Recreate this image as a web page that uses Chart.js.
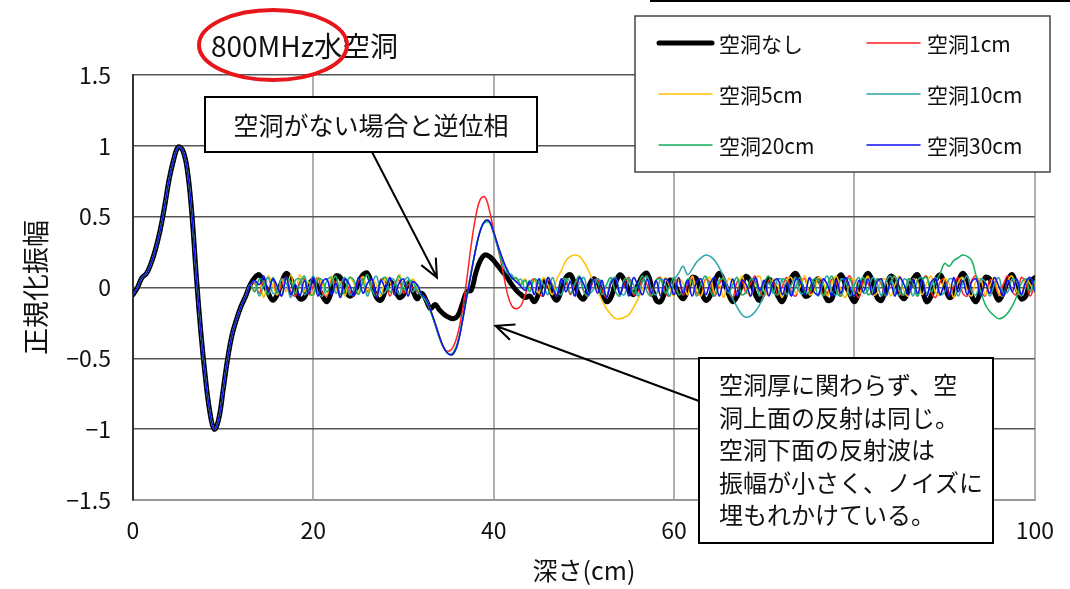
<!DOCTYPE html>
<html lang="ja">
<head>
<meta charset="utf-8">
<title>800MHz水空洞</title>
<script src="https://cdn.jsdelivr.net/npm/chart.js@4.4.1/dist/chart.umd.min.js"></script>
<style>
  html, body { margin: 0; padding: 0; background: #fff; }
  #wrap { position: relative; width: 1070px; height: 589px; }
</style>
</head>
<body>
<div id="wrap"><canvas id="waveChart" width="1070" height="589"></canvas></div>
<script>
// depth sampling (cm)
const depthStep = 0.5;

// direct wave, same for every case: 0 - 13 cm
const pulse = [
  -0.05, 0.0, 0.07, 0.1, 0.17, 0.27, 0.4, 0.57, 0.76, 0.9,
  0.99, 0.97, 0.84, 0.54, 0.1, -0.3, -0.62, -0.87, -1.0, -0.93,
  -0.72, -0.5, -0.33, -0.22, -0.13, -0.06, 0.02
];

// 13.5 - 100 cm for each case
const noCavity = [
  0.07, 0.09, 0.03, -0.04, -0.09, -0.05, 0.04, 0.1, 0.06, -0.02,
  -0.08, -0.07, 0.02, 0.05, 0.0, -0.06, -0.1, -0.03, 0.08, 0.07,
  -0.01, -0.06, -0.04, 0.03, 0.09, 0.1, 0.02, -0.07, -0.09, -0.02,
  0.04, 0.0, -0.07, -0.05, 0.03, -0.02, -0.08, -0.04, -0.09, -0.15,
  -0.12, -0.16, -0.19, -0.21, -0.22, -0.2, -0.12, -0.03, -0.02, 0.1,
  0.19, 0.23, 0.22, 0.19, 0.15, 0.11, 0.07, 0.02, -0.02, -0.05,
  -0.07, -0.06, -0.1, -0.04, 0.04, 0.03, -0.05, -0.09, -0.02, 0.07,
  0.09, 0.02, -0.06, -0.08, 0.0, 0.06, 0.04, -0.04, -0.1, -0.07,
  0.03, 0.09, 0.05, -0.02, -0.05, 0.02, 0.08, 0.1, 0.01, -0.09,
  -0.1, -0.03, 0.05, 0.03, -0.04, -0.08, -0.02, 0.07, 0.06, -0.03,
  -0.09, -0.06, 0.04, 0.1, 0.05, -0.04, -0.1, -0.06, 0.02, 0.08,
  0.04, -0.05, -0.09, 0.0, 0.06, 0.02, -0.06, -0.1, -0.02, 0.07,
  0.1, 0.03, -0.06, -0.05, 0.03, 0.06, -0.01, -0.09, -0.08, 0.04,
  0.09, 0.02, -0.05, -0.1, -0.03, 0.05, 0.1, 0.04, -0.07, -0.09,
  0.0, 0.08, 0.05, -0.04, -0.08, -0.02, 0.06, 0.09, -0.01, -0.1,
  -0.06, 0.05, 0.09, 0.02, -0.07, -0.05, 0.04, 0.1, 0.05, -0.06,
  -0.1, -0.02, 0.07, 0.06, -0.03, -0.09, -0.04, 0.05, 0.09, 0.0,
  -0.08, -0.06, 0.04, 0.07
];
const cavity1 = [
  0.03, -0.04, 0.05, -0.02, 0.06, -0.05, 0.02, 0.07, -0.03, -0.06,
  0.04, 0.06, -0.05, 0.01, 0.07, -0.04, -0.06, 0.05, 0.03, -0.05,
  0.06, -0.02, -0.06, 0.05, 0.07, -0.03, 0.02, -0.05, 0.06, 0.04,
  -0.06, 0.03, 0.05, -0.04, 0.02, 0.0, -0.03, -0.05, -0.08, -0.16,
  -0.26, -0.36, -0.43, -0.45, -0.42, -0.33, -0.17, 0.05, 0.3, 0.5,
  0.62, 0.64, 0.55, 0.4, 0.27, 0.12, -0.04, -0.13, -0.15, -0.13,
  -0.05, 0.03, 0.06, -0.04, -0.06, 0.05, 0.02, -0.05, 0.06, 0.04,
  -0.05, 0.02, 0.07, -0.03, -0.06, 0.04, 0.06, -0.02, -0.07, 0.03,
  0.06, -0.04, 0.03, 0.07, -0.05, -0.03, 0.06, 0.02, -0.06, 0.05,
  0.07, -0.03, -0.06, 0.04, 0.05, -0.05, 0.02, 0.07, -0.04, -0.05,
  0.06, 0.03, -0.06, 0.02, 0.07, -0.02, -0.07, 0.04, 0.05, -0.04,
  0.03, 0.08, -0.03, -0.06, 0.05, 0.04, -0.05, 0.01, 0.07, -0.03,
  -0.06, 0.05, 0.06, -0.04, 0.02, 0.07, -0.05, -0.04, 0.06, 0.03,
  -0.06, 0.04, 0.08, -0.02, -0.07, 0.05, 0.03, -0.05, 0.06, 0.02,
  -0.06, 0.03, 0.07, -0.04, -0.05, 0.06, 0.02, -0.06, 0.05, 0.08,
  -0.03, -0.07, 0.04, 0.06, -0.05, 0.01, 0.07, -0.04, -0.06, 0.05,
  0.08, -0.02, -0.06, 0.05, 0.04, -0.05, 0.02, 0.08, -0.03, -0.05,
  0.07, 0.03, -0.06, 0.04
];
const cavity5 = [
  -0.02, 0.05, -0.07, 0.08, 0.01, -0.05, 0.06, -0.03, 0.09, -0.04,
  0.09, -0.03, 0.04, -0.06, 0.07, 0.02, -0.05, 0.08, -0.02, 0.04,
  -0.06, 0.07, 0.03, -0.04, 0.08, -0.05, 0.05, 0.02, -0.06, 0.07,
  0.04, -0.05, 0.09, 0.01, -0.04, 0.06, 0.0, -0.06, -0.08, -0.16,
  -0.25, -0.35, -0.43, -0.47, -0.47, -0.4, -0.25, -0.07, 0.1, 0.27,
  0.4, 0.47, 0.47, 0.39, 0.29, 0.2, 0.12, 0.08, 0.06, 0.03,
  0.06, -0.02, 0.05, -0.04, 0.07, 0.02, -0.05, 0.06, 0.12, 0.19,
  0.22, 0.23, 0.22, 0.18, 0.12, 0.05, -0.02, -0.09, -0.15, -0.19,
  -0.22, -0.22, -0.21, -0.19, -0.14, -0.08, -0.01, 0.06, -0.03, 0.05,
  -0.05, 0.07, 0.01, -0.06, 0.06, 0.03, -0.05, 0.08, -0.02, -0.06,
  0.05, 0.07, -0.04, 0.02, -0.07, 0.06, 0.04, -0.05, 0.08, -0.01,
  -0.06, 0.05, 0.08, -0.03, -0.05, 0.06, 0.02, -0.07, 0.05, 0.07,
  -0.04, 0.01, 0.08, -0.05, -0.03, 0.07, 0.04, -0.06, 0.03, 0.08,
  -0.02, -0.07, 0.05, 0.06, -0.04, 0.02, 0.08, -0.05, -0.04, 0.06,
  0.05, -0.06, 0.02, 0.08, -0.03, -0.06, 0.06, 0.04, -0.05, 0.03,
  0.08, -0.04, -0.05, 0.06, 0.03, -0.07, 0.04, 0.07, -0.02, -0.06,
  0.05, 0.06, -0.05, 0.01, 0.07, -0.04, -0.06, 0.05, 0.08, -0.03,
  -0.05, 0.06, 0.02, -0.04
];
const cavity10 = [
  0.04, -0.06, 0.02, 0.07, -0.04, -0.03, 0.06, 0.03, -0.07, 0.05,
  0.06, -0.05, 0.0, 0.08, -0.03, -0.06, 0.05, 0.07, -0.04, 0.02,
  0.07, -0.05, -0.02, 0.06, 0.04, -0.06, 0.03, 0.08, -0.04, -0.03,
  0.06, 0.05, -0.05, 0.04, 0.07, -0.03, 0.02, -0.05, -0.09, -0.17,
  -0.26, -0.35, -0.43, -0.47, -0.46, -0.39, -0.24, -0.06, 0.11, 0.27,
  0.4, 0.46, 0.46, 0.38, 0.27, 0.16, 0.1, 0.09, 0.04, 0.06,
  -0.01, 0.05, -0.04, 0.06, 0.02, -0.05, 0.07, -0.02, -0.05, 0.06,
  0.04, -0.06, 0.03, 0.07, -0.04, -0.02, 0.06, 0.03, -0.06, 0.05,
  0.07, -0.03, -0.05, 0.06, 0.02, -0.06, 0.04, 0.08, -0.02, -0.05,
  0.06, 0.03, -0.06, 0.05, 0.1, 0.15, 0.09, 0.13, 0.18, 0.21,
  0.23, 0.22, 0.19, 0.14, 0.07, -0.01, -0.08, -0.14, -0.19, -0.21,
  -0.2, -0.17, -0.12, -0.05, 0.03, -0.04, 0.06, 0.05, -0.05, 0.02,
  0.07, -0.04, -0.03, 0.06, 0.04, -0.06, 0.03, 0.08, -0.03, -0.05,
  0.06, 0.04, -0.06, 0.02, 0.07, -0.04, -0.02, 0.07, 0.03, -0.06,
  0.04, 0.08, -0.03, -0.05, 0.06, 0.03, -0.06, 0.05, 0.07, -0.04,
  0.01, 0.07, -0.05, -0.03, 0.06, 0.05, -0.06, 0.03, 0.08, -0.03,
  -0.05, 0.06, 0.04, -0.06, 0.02, 0.07, -0.04, -0.03, 0.06, 0.04,
  -0.06, 0.03, 0.07, -0.02
];
const cavity20 = [
  -0.03, 0.06, 0.03, -0.05, 0.07, -0.02, -0.05, 0.06, 0.04, -0.04,
  0.02, 0.08, -0.04, -0.05, 0.06, 0.05, -0.03, 0.03, 0.08, -0.05,
  -0.02, 0.07, 0.05, -0.05, 0.04, 0.09, -0.02, -0.06, 0.05, 0.07,
  -0.03, 0.02, 0.08, -0.02, 0.05, 0.04, -0.02, -0.06, -0.1, -0.17,
  -0.26, -0.36, -0.43, -0.47, -0.46, -0.39, -0.24, -0.06, 0.11, 0.27,
  0.4, 0.46, 0.46, 0.38, 0.28, 0.18, 0.13, 0.06, 0.07, 0.02,
  0.05, -0.03, 0.06, 0.03, -0.05, 0.07, 0.01, -0.06, 0.05, 0.06,
  -0.04, 0.03, 0.08, -0.03, -0.06, 0.05, 0.04, -0.05, 0.02, 0.07,
  -0.03, -0.06, 0.06, 0.05, -0.04, 0.02, 0.08, -0.03, -0.06, 0.05,
  0.06, -0.04, 0.01, 0.07, -0.05, -0.02, 0.06, 0.04, -0.06, 0.03,
  0.08, -0.02, -0.06, 0.05, 0.06, -0.04, 0.02, 0.07, -0.05, -0.03,
  0.06, 0.04, -0.06, 0.03, 0.08, -0.03, -0.05, 0.06, 0.04, -0.05,
  0.01, 0.07, -0.04, -0.03, 0.06, 0.05, -0.06, 0.02, 0.08, -0.03,
  -0.06, 0.05, 0.06, -0.04, 0.02, 0.07, -0.05, -0.02, 0.06, 0.03,
  -0.06, 0.04, 0.08, -0.03, -0.05, 0.06, 0.02, -0.06, 0.05, 0.07,
  -0.03, 0.04, 0.1, 0.17, 0.15, 0.19, 0.21, 0.23, 0.22, 0.19,
  0.08, -0.03, -0.12, -0.17, -0.2, -0.22, -0.21, -0.18, -0.13, -0.06,
  0.03, 0.06, -0.03, 0.05
];
const cavity30 = [
  0.05, 0.02, 0.08, -0.03, 0.06, 0.01, -0.06, 0.07, -0.05, 0.02,
  -0.06, 0.05, -0.04, 0.07, -0.06, 0.04, 0.06, -0.05, 0.03, -0.07,
  0.06, 0.02, -0.06, 0.07, -0.04, 0.03, 0.06, -0.07, 0.05, 0.0,
  0.07, -0.05, 0.03, 0.06, -0.06, 0.04, 0.02, -0.05, -0.08, -0.16,
  -0.25, -0.35, -0.43, -0.47, -0.47, -0.4, -0.25, -0.07, 0.1, 0.27,
  0.4, 0.47, 0.47, 0.39, 0.29, 0.2, 0.12, 0.07, 0.04, 0.01,
  -0.02, 0.04, -0.05, 0.06, -0.06, 0.07, 0.0, -0.06, 0.06, -0.03,
  0.04, -0.06, 0.07, 0.02, -0.05, 0.06, -0.04, 0.05, -0.07, 0.03,
  0.06, -0.05, 0.04, -0.06, 0.07, 0.01, -0.05, 0.06, -0.04, 0.05,
  -0.06, 0.06, 0.03, -0.05, 0.07, -0.04, 0.05, -0.06, 0.04, 0.06,
  -0.05, 0.03, 0.07, -0.06, 0.04, -0.03, 0.06, -0.06, 0.05, 0.02,
  -0.06, 0.07, -0.02, 0.05, -0.06, 0.04, 0.06, -0.05, 0.03, -0.06,
  0.06, 0.04, -0.05, 0.07, -0.03, -0.05, 0.06, 0.02, -0.06, 0.05,
  -0.04, 0.07, 0.0, -0.06, 0.05, -0.03, 0.06, -0.05, 0.04, 0.06,
  -0.05, 0.03, -0.06, 0.07, 0.02, -0.05, 0.06, -0.04, 0.05, -0.06,
  0.04, 0.06, -0.05, 0.02, -0.06, 0.07, -0.03, 0.05, -0.05, 0.04,
  0.06, -0.06, 0.03, -0.04, 0.07, 0.01, -0.06, 0.05, -0.03, 0.06,
  -0.05, 0.04, 0.07, -0.03
];

const seriesNames = ["空洞なし", "空洞1cm", "空洞5cm", "空洞10cm", "空洞20cm", "空洞30cm"];
const seriesData = [noCavity, cavity1, cavity5, cavity10, cavity20, cavity30];
const seriesColors = ["#000000", "#ff2020", "#ffc000", "#2aa6a6", "#16b060", "#1010f0"];
const seriesWidths = [5, 1.5, 1.5, 1.5, 1.5, 1.5];

const xTicks = [0, 20, 40, 60, 80, 100];
const yTicks = [1.5, 1, 0.5, 0, -0.5, -1, -1.5];

const jpFont = '"Noto Sans CJK JP", "Noto Sans", sans-serif';

function toPoints(tail) {
    let vals = pulse.concat(tail);
    let pts = [];
    for(let i = 0; i < vals.length; i++) {
        pts.push({ x: i * depthStep, y: vals[i] });
    }
    return pts;
}

let datasets = [];
for(let i = 0; i < seriesNames.length; i++) {
    datasets.push({
        label: seriesNames[i],
        data: toPoints(seriesData[i]),
        borderColor: seriesColors[i],
        backgroundColor: seriesColors[i],
        borderWidth: seriesWidths[i],
        // later series drawn on top, like the spreadsheet
        order: seriesNames.length - i
    });
}

function drawArrow(ctx, x0, y0, x1, y1) {
    const ang = Math.atan2(y1 - y0, x1 - x0);
    const head = 20, spread = 0.42;
    ctx.beginPath();
    ctx.moveTo(x0, y0);
    ctx.lineTo(x1, y1);
    ctx.moveTo(x1 - head * Math.cos(ang - spread), y1 - head * Math.sin(ang - spread));
    ctx.lineTo(x1, y1);
    ctx.lineTo(x1 - head * Math.cos(ang + spread), y1 - head * Math.sin(ang + spread));
    ctx.stroke();
}

const overlay = {
    id: "overlay",
    afterDraw(chart) {
        const ctx = chart.ctx;
        const xs = chart.scales.x, ys = chart.scales.y;
        ctx.save();

        // rule of the slide above the chart
        ctx.strokeStyle = "#000";
        ctx.lineWidth = 2;
        ctx.beginPath();
        ctx.moveTo(650, 1);
        ctx.lineTo(1070, 1);
        ctx.stroke();

        // chart title + red mark
        ctx.fillStyle = "#111";
        ctx.font = "28px " + jpFont;
        ctx.textAlign = "left";
        ctx.textBaseline = "middle";
        ctx.fillText("800MHz水空洞", 211, 46);
        ctx.strokeStyle = "#e8161b";
        ctx.lineWidth = 4;
        ctx.beginPath();
        ctx.ellipse(273, 45, 74, 35, 0, 0, Math.PI * 2);
        ctx.stroke();

        // legend
        ctx.fillStyle = "#fff";
        ctx.fillRect(635, 16, 415, 156);
        ctx.strokeStyle = "#444";
        ctx.lineWidth = 1.5;
        ctx.strokeRect(635, 16, 415, 156);
        ctx.font = "21px " + jpFont;
        chart.data.datasets.forEach(function(ds, i) {
            let col = i % 2, row = Math.floor(i / 2);
            let lx = col === 0 ? 659 : 867;
            let ly = 43 + row * 51;
            ctx.strokeStyle = ds.borderColor;
            ctx.lineWidth = ds.borderWidth;
            ctx.lineCap = "round";
            ctx.beginPath();
            ctx.moveTo(lx, ly);
            ctx.lineTo(lx + 53, ly);
            ctx.stroke();
            ctx.fillStyle = "#111";
            ctx.fillText(ds.label, lx + 60, ly + 1);
        });
        ctx.lineCap = "butt";

        // callout 1
        ctx.fillStyle = "#fff";
        ctx.fillRect(205, 97, 332, 55);
        ctx.strokeStyle = "#000";
        ctx.lineWidth = 2;
        ctx.strokeRect(205, 97, 332, 55);
        ctx.fillStyle = "#111";
        ctx.font = "25px " + jpFont;
        ctx.textAlign = "center";
        ctx.fillText("空洞がない場合と逆位相", 371, 125);
        drawArrow(ctx, 372, 152, xs.getPixelForValue(33.7), ys.getPixelForValue(0.07));

        // callout 2
        ctx.fillStyle = "#fff";
        ctx.fillRect(699, 358, 294, 185);
        ctx.strokeRect(699, 358, 294, 185);
        ctx.fillStyle = "#111";
        ctx.textAlign = "left";
        ctx.font = "24px " + jpFont;
        let lines = ["空洞厚に関わらず、空", "洞上面の反射は同じ。", "空洞下面の反射波は", "振幅が小さく、ノイズに", "埋もれかけている。"];
        for(let i = 0; i < lines.length; i++) {
            ctx.fillText(lines[i], 719, 385 + i * 32.5);
        }
        drawArrow(ctx, 699, 401, xs.getPixelForValue(40.2), ys.getPixelForValue(-0.27));

        ctx.restore();
    }
};

new Chart(document.getElementById("waveChart"), {
    type: "line",
    data: { datasets: datasets },
    options: {
        responsive: false,
        animation: false,
        layout: { padding: { top: 75, right: 27, bottom: 0, left: 0 } },
        plugins: { legend: { display: false }, tooltip: { enabled: false } },
        elements: {
            point: { radius: 0 },
            line: { tension: 0.4, borderJoinStyle: "round", borderCapStyle: "round" }
        },
        scales: {
            x: {
                type: "linear",
                min: 0,
                max: 100,
                afterFit: function(s) { s.height = 89; },
                afterBuildTicks: function(s) { s.ticks = xTicks.map(v => ({ value: v })); },
                ticks: { padding: 16, color: "#111", font: { size: 23, family: jpFont } },
                grid: { color: "#b0b0b0", lineWidth: 2, drawTicks: false },
                border: { color: "#999", width: 2 },
                title: {
                    display: true,
                    text: "深さ(cm)",
                    color: "#111",
                    font: { size: 25, family: jpFont },
                    padding: { top: 0, bottom: 4 }
                }
            },
            y: {
                type: "linear",
                min: -1.5,
                max: 1.5,
                afterFit: function(s) { s.width = 133; },
                afterBuildTicks: function(s) { s.ticks = yTicks.map(v => ({ value: v })); },
                ticks: {
                    padding: 22,
                    color: "#111",
                    font: { size: 23, family: jpFont },
                    callback: function(v) { return String(v).replace("-", "−"); }
                },
                grid: { color: "#555", lineWidth: 1.5, drawTicks: false },
                border: { color: "#333", width: 2 },
                title: {
                    display: true,
                    text: "正規化振幅",
                    color: "#111",
                    font: { size: 27, family: jpFont },
                    padding: { top: 20, bottom: 0 }
                }
            }
        }
    },
    plugins: [overlay]
});
</script>
</body>
</html>
